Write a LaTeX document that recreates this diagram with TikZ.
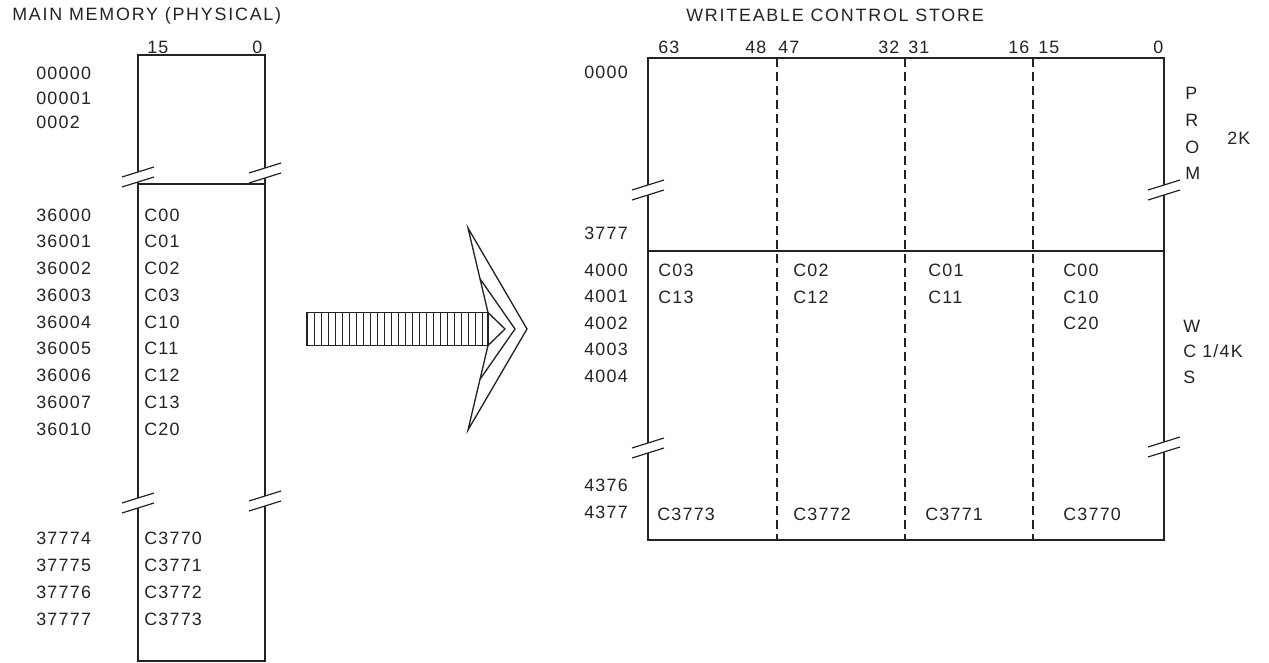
\documentclass[tikz,border=0pt]{standalone}
\usepackage{fontspec}
\setmainfont{Liberation Sans}[LetterSpace=7]
\newfontfamily\headfont{Liberation Sans}[LetterSpace=10]
\usepackage{tikz}
\usetikzlibrary{positioning,calc}
\definecolor{ink}{RGB}{35,35,35}
\tikzset{lbl/.style={anchor=west,inner sep=0pt,font=\fontsize{13.4}{15}\selectfont,text=ink},ttl/.style={lbl,font=\headfont\fontsize{13.4}{15}\selectfont},frame/.style={draw=ink,line width=1pt},heavy/.style={draw=ink,line width=1.5pt},field/.style={draw=ink,line width=0.8pt,dash pattern=on 7pt off 3.5pt},hatch/.style={draw=ink,line width=0.7pt},brk/.pic={\fill[white] (-4,-3.75)--(4,-6.25)--(4,3.75)--(-4,6.25)--cycle;\draw[ink,line width=0.9pt] (-16,0)--(16,-10) (-16,10)--(16,0);}}

\begin{document}
\begin{tikzpicture}[x=0.75pt,y=-0.75pt]
\useasboundingbox (0,0) rectangle (1269,663);
\node[ttl] (mmtitle) at (12,16) {MAIN MEMORY (PHYSICAL)};
\node[lbl] (mmhi) at (147,47) {15};
\node[lbl] (mmlo) at (252,47) {0};
\draw[frame] (138,184)--(138,55)--(265,55)--(265,184)--cycle;
\draw[frame] (138,184)--(138,661)--(265,661)--(265,184);
\pic at (138,177) {brk};\pic at (265,173) {brk};
\pic at (138,503) {brk};\pic at (265,501) {brk};
\foreach \adr [count=\i] in {00000,00001,0002}
  \node[lbl] (ma\i) at (36,{73.5+24.5*(\i-1)}) {\adr};
\foreach \adr/\cw [count=\i] in {36000/C00,36001/C01,36002/C02,36003/C03,36004/C10,36005/C11,36006/C12,36007/C13,36010/C20}{
  \node[lbl] (mb\i) at (36,{215+26.75*(\i-1)}) {\adr};
  \node[lbl] (mw\i) at (144,{215+26.75*(\i-1)}) {\cw};}
\foreach \adr/\cw [count=\i] in {37774/C3770,37775/C3771,37776/C3772,37777/C3773}{
  \node[lbl] (mc\i) at (36,{538+27*(\i-1)}) {\adr};
  \node[lbl] (mx\i) at (144,{538+27*(\i-1)}) {\cw};}
% transfer arrow
\draw[frame] (307,312.5) rectangle (488,345.5);
\foreach \hx in {314,321,...,482} \draw[hatch] (\hx,312.5)--(\hx,345.5);
\draw[frame,line join=miter] (488,312.5)--(468,228)--(527,329)--(468,430)--(488,345.5);
\draw[frame] (480,278.7)--(515,329)--(480,379.3);
\draw[frame] (488,312.5)--(505,329)--(488,345.5);
% writeable control store
\node[ttl] (wcstitle) at (686,15) {WRITEABLE CONTROL STORE};
\foreach \bx/\bn in {658/63,745/48,778/47,878/32,908/31,1008/16,1038/15,1153/0}
  \node[lbl] (b\bn) at (\bx,47) {\bn};
\draw[frame] (648,58) rectangle (1164,540);
\foreach \dx in {777,905,1033} \draw[field] (\dx,58)--(\dx,540);
\draw[heavy] (648,251)--(1164,251);
\pic at (648,190) {brk};\pic at (1164,190) {brk};
\pic at (648,448) {brk};\pic at (1164,447) {brk};
\node[lbl] (w0000) at (584,72) {0000};
\node[lbl] (w3777) at (584,233) {3777};
\foreach \adr [count=\i] in {4000,4001,4002,4003,4004}
  \node[lbl] (wa\i) at (584,{270+26.6*(\i-1)}) {\adr};
\node[lbl] (w4376) at (584,485) {4376};
\node[lbl] (w4377) at (584,512) {4377};
\foreach \cx/\ca/\cb [count=\i] in {658/C03/C13,793/C02/C12,928/C01/C11,1063/C00/C10}{
  \node[lbl] (wr\i) at (\cx,270) {\ca};
  \node[lbl] (ws\i) at (\cx,297) {\cb};}
\node[lbl] (wc20) at (1063,323) {C20};
\foreach \cx/\cw [count=\i] in {657/C3773,793/C3772,925/C3771,1063/C3770}
  \node[lbl] (wl\i) at (\cx,514) {\cw};
\foreach \ch/\cy in {P/93,R/120,O/147,M/173}
  \node[lbl] (prom\ch) at (1185,\cy) {\ch};
\node[lbl] (promsz) at (1227,138) {2K};
\foreach \ch/\cy in {W/326,C/351,S/377}
  \node[lbl] (wcs\ch) at (1183,\cy) {\ch};
\node[lbl] (wcssz) at (1202,351) {1/4K};
\end{tikzpicture}
\end{document}
